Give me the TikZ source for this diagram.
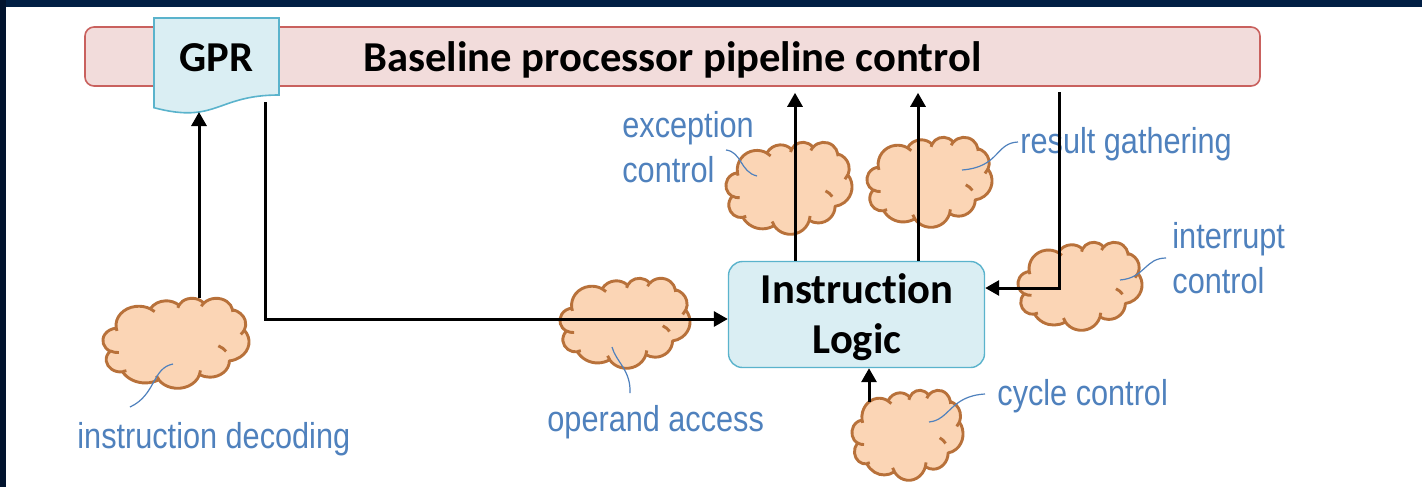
\documentclass[tikz,border=0pt]{standalone}
\usepackage{fontspec}
\usetikzlibrary{arrows.meta}
\newfontfamily\headfont[Ligatures={NoCommon,NoRare}]{Carlito}
\newfontfamily\labelfont[FakeStretch=0.852]{Liberation Sans}
\definecolor{navy}{HTML}{011F44}
\definecolor{navydeep}{HTML}{01132E}
\definecolor{barfill}{HTML}{F2DCDB}
\definecolor{barline}{HTML}{C9615E}
\definecolor{docfill}{HTML}{DAEEF3}
\definecolor{docline}{HTML}{5AB3CC}
\definecolor{cloudfill}{HTML}{FBD5B5}
\definecolor{cloudline}{HTML}{B8713A}
\definecolor{labelblue}{HTML}{4F81BD}

\tikzset{
  % elliptical arc given by radii, start angle and sweep (visual angles)
  carc/.style n args={4}{insert path={
    arc[x radius=#1pt, y radius=#2pt,
        start angle={atan2(#1*sin(#3),#2*cos(#3))},
        delta angle={mod(atan2(#1*sin(#3+#4),#2*cos(#3+#4))-atan2(#1*sin(#3),#2*cos(#3))+720,360)}]
  }},
  puff/.style={draw=cloudline, line width=1.45pt, line join=round},
  conn/.style={line width=1.5pt, -{Triangle[length=7pt,width=7.5pt]}},
  callout/.style={draw=labelblue, line width=0.6pt},
  headtxt/.style={font=\headfont\bfseries\fontsize{21.3}{25}\selectfont, inner sep=0pt, anchor=base},
  lbl/.style={font=\labelfont\fontsize{18}{22}\selectfont, text=labelblue, inner sep=0pt, anchor=base west},
  barbox/.style={draw=barline, fill=barfill, line width=0.8pt, rounded corners=4.5pt,
    minimum width=587.5pt, minimum height=29.5pt, inner sep=0pt},
  logicbox/.style={draw=docline, fill=docfill, line width=0.7pt, rounded corners=7pt,
    minimum width=128pt, minimum height=53pt, inner sep=0pt},
}

% cloud: #1 name, #2 left, #3 top, #4 width, #5 height (picture units)
\newcommand\pptcloud[5]{%
  \node[inner sep=0pt, minimum width=#4*0.5pt, minimum height=#5*0.5pt] (#1) at ({#2+#4/2},{#3+#5/2}) {};
  \begin{scope}[x=1pt, y=1pt, shift={(#2*0.5pt,-#3*0.5pt)}, xscale=#4*0.5/43.2, yscale=-#5*0.5/43.2]
    \path[puff, fill=cloudfill] (3.900,14.370)
      [carc={6.753}{9.190}{-190.4875}{123.7805}]
      [carc={5.333}{7.267}{-144.1024}{89.9452}]
      [carc={4.365}{5.945}{-145.8079}{99.7230}]
      [carc={4.857}{6.595}{-130.9861}{117.2417}]
      [carc={5.333}{7.273}{-78.7089}{109.0269}]
      [carc={6.775}{9.220}{-46.2673}{130.2690}]
      [carc={5.785}{7.867}{0.6250}{114.0333}]
      [carc={6.752}{9.215}{22.4516}{115.1726}]
      [carc={7.720}{10.543}{66.2426}{75.7110}]
      [carc={4.360}{5.918}{-274.9421}{146.7356}]
      [carc={4.345}{5.945}{-246.8285}{152.5189}] -- cycle;
    \path[puff]
      (4.693,26.177) [carc={4.345}{5.945}{86.7420}{26.4295}]
      (6.928,34.899) [carc={4.360}{5.918}{73.6105}{11.4475}]
      (16.478,39.090) [carc={6.752}{9.215}{137.6242}{14.0811}]
      (28.827,34.751) [carc={6.752}{9.215}{6.4533}{15.9984}]
      (34.129,22.954) [carc={5.785}{7.867}{-70.74}{27.83}]
      (41.798,15.354) [carc={5.333}{7.273}{30.3180}{21.9837}]
      (38.324,5.426) [carc={4.857}{6.595}{-13.7443}{14.8570}]
      (29.078,3.952) [carc={4.857}{6.595}{-149.1815}{18.1840}]
      (22.141,4.720) [carc={4.365}{5.945}{-163.4943}{17.6926}]
      (14.000,5.192) [carc={6.753}{9.190}{-66.7070}{12.3194}]
      (4.127,15.789) [carc={6.753}{9.190}{157.6544}{11.8582}];
  \end{scope}}

\begin{document}
\begin{tikzpicture}[x=0.5pt, y=-0.5pt]
  \useasboundingbox (0,0) rectangle (1422,487);
  \fill[white] (0,0) rectangle (1422,487);
  \fill[navy] (0,0) rectangle (1422,7);
  \fill[navydeep] (0,0) rectangle (6,487);

  % pipeline control bar and register file
  \node[barbox] (bar) at (672.5,56.5) {};
  \node[headtxt] (title) at (672.5,71) {Baseline processor pipeline control};
  \draw[draw=docline, fill=docfill, line width=0.8pt]
    (154,18) -- (279,18) -- (279,95) .. controls (216.5,95) and (216.5,124.3) .. (154,107.7) -- cycle;
  \node[headtxt] (gpr) at (216.5,71) {GPR};
  \coordinate (gprin) at (199,112);
  \coordinate (gprout) at (265,102);

  % instruction logic block
  \node[logicbox] (logic) at (856.5,314.5) {};
  \node[headtxt] (logicA) at (857,303) {Instruction};
  \node[headtxt] (logicB) at (857,353) {Logic};

  % functional clouds
  \pptcloud{decode}{103}{298}{146}{90}
  \pptcloud{operand}{560}{278}{130}{90}
  \pptcloud{cyc}{852}{390}{111}{90}
  \pptcloud{except}{726}{142}{126}{92}
  \pptcloud{gather}{867}{137}{125}{90}
  \pptcloud{irq}{1018}{242}{124}{88}

  % labels
  \node[lbl] (decodetxt) at (77,448) {instruction decoding};
  \node[lbl] (operandtxt) at (547,431) {operand access};
  \node[lbl] (cyctxt) at (997,405) {cycle control};
  \node[lbl] (excepttxtA) at (622,137) {exception};
  \node[lbl] (excepttxtB) at (622,182) {control};
  \node[lbl] (gathertxt) at (1020,153) {result gathering};
  \node[lbl] (irqtxtA) at (1172,248) {interrupt};
  \node[lbl] (irqtxtB) at (1172,293) {control};

  % callout strokes from labels into clouds
  \draw[callout] (173,364) .. controls (152,368) and (156,395) .. (130,407);
  \draw[callout] (612,347) .. controls (616,362) and (631,370) .. (630,393);
  \draw[callout] (929,422) .. controls (950,420) and (950,396) .. (985,394);
  \draw[callout] (726,150) .. controls (742,152) and (740,172) .. (757,176);
  \draw[callout] (1018,142) .. controls (995,143) and (1000,167) .. (962,170);
  \draw[callout] (1166,258) .. controls (1145,258) and (1145,278) .. (1120,280);

  % connectors
  \draw[conn] (decode.north -| gprin) -- (gprin);
  \coordinate (opin) at ([yshift=-2.25pt]logic.west);
  \draw[conn] (gprout) |- (opin);
  \coordinate (upA) at ([xshift=-30.75pt]logic.north);
  \coordinate (upB) at ([xshift=30.75pt]logic.north);
  \draw[conn, shorten >=3pt] (upA) -- (upA |- bar.south);
  \draw[conn, shorten >=3pt] (upB) -- (upB |- bar.south);
  \coordinate (irqtop) at (1059,92);
  \coordinate (irqin) at ([yshift=13.25pt]logic.east);
  \draw[conn] (irqtop) |- (irqin);
  \coordinate (cycbase) at (869,402);
  \draw[conn] (cycbase) -- (cycbase |- logic.south);
\end{tikzpicture}
\end{document}
